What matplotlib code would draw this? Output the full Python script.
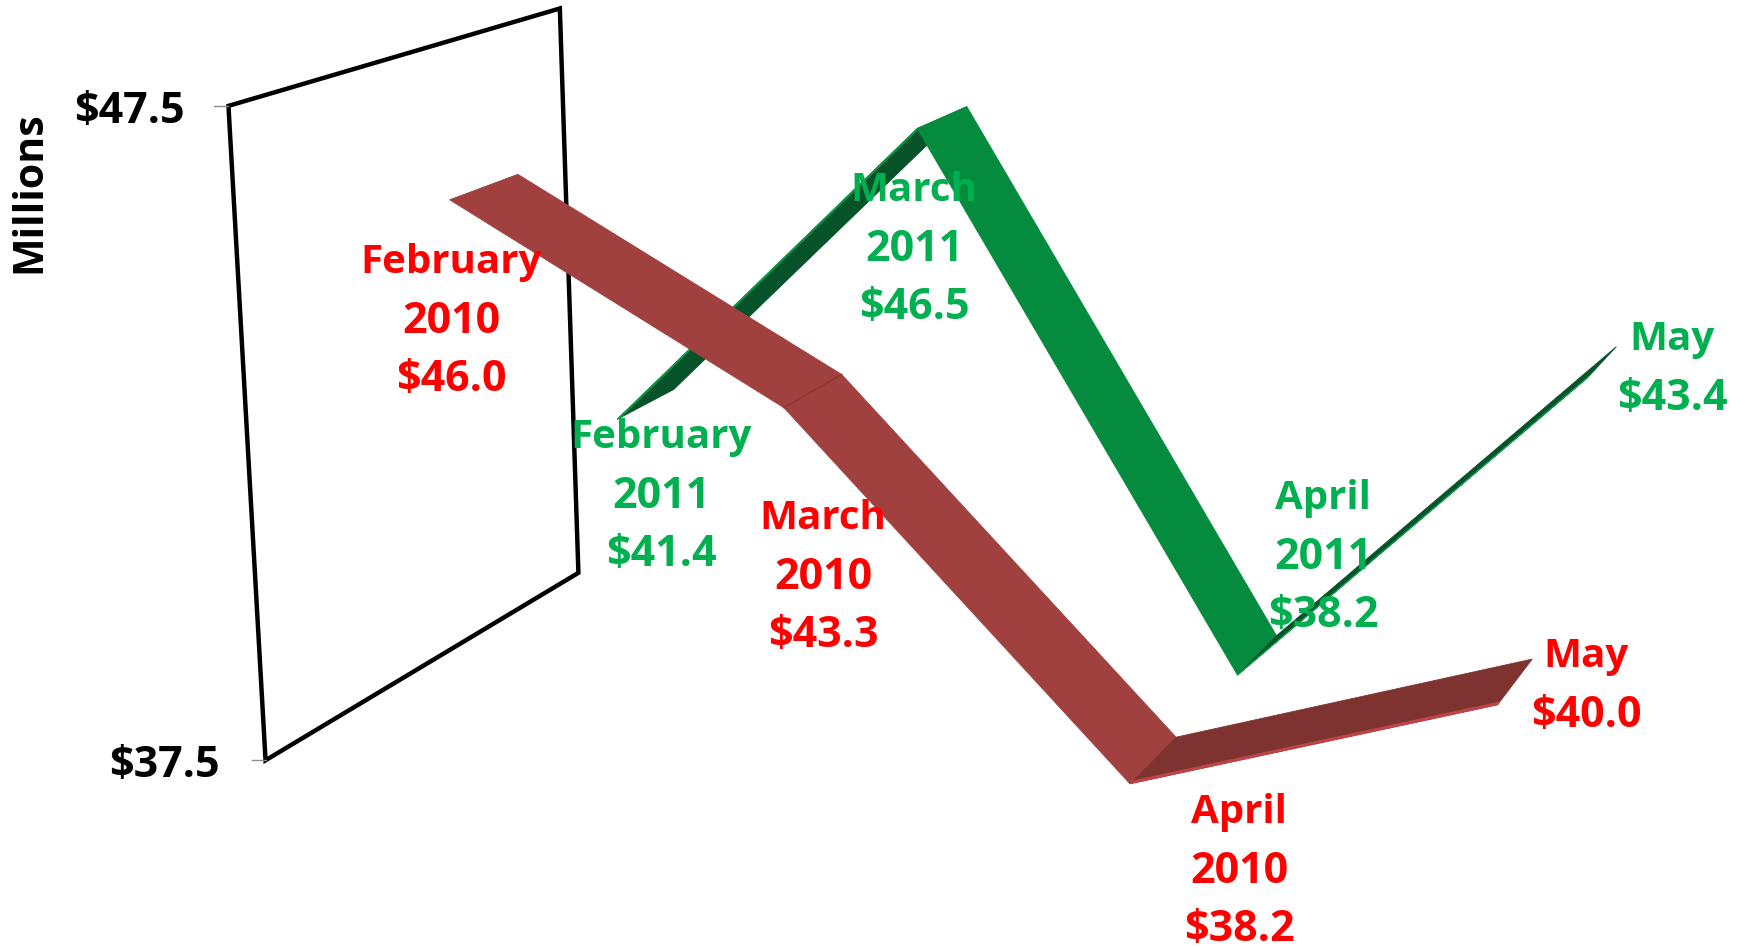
import matplotlib
matplotlib.use('Agg')
import matplotlib.pyplot as plt
import numpy as np

### Data

months = ['February', 'March', 'April', 'May']
years_2010 = ['2010', '2010', '2010', '']
years_2011 = ['2011', '2011', '2011', '']
values_2010 = [46.0, 43.3, 38.2, 40.0]
values_2011 = [41.4, 46.5, 38.2, 43.4]
axis_values = [37.5, 47.5]

### Camera for the 3D look: (category, depth, value) -> picture pixels

camera = np.array([
    [250.7556, 70.87276, -4.027204, 553.6854],
    [13.72727, -15.82113, -55.65071, 2723.6268],
    [-0.02614323, 0.02897421, -0.003927233, 1.0],
])


def project(cat, depth, value):
    q = camera @ np.array([cat, depth, value, 1.0])
    return q[0] / q[2], q[1] / q[2]


# depth of each ribbon, and the box wall
depth_2010 = 0.0
depth_2011 = 2.45
ribbon_width = 1.0
wall_cat = -0.5
wall_depth = [-0.75, 4.13]

### Set up figure

plt.rcParams['font.family'] = ['Open Sans', 'DejaVu Sans']
word_size = 29
number_size = 31
fig = plt.figure(figsize=(17.46, 9.48), dpi=100)
ax = fig.add_axes([0, 0, 1, 1])
ax.set_xlim(0, 1746)
ax.set_ylim(948, 0)
ax.axis('off')

### Wall

wall = [project(wall_cat, wall_depth[0], axis_values[1]),
        project(wall_cat, wall_depth[1], axis_values[1]),
        project(wall_cat, wall_depth[1], axis_values[0]),
        project(wall_cat, wall_depth[0], axis_values[0])]
ax.add_patch(plt.Polygon(wall, closed=True, fill=False, edgecolor='black', linewidth=3.2, zorder=1))

for v, lab_x in zip(axis_values, [220, 185]):
    x0, y0 = project(wall_cat, wall_depth[0], v)
    ax.plot([x0 - 14, x0], [y0, y0], color='0.55', linewidth=1.0, zorder=1)
    ax.text(lab_x, y0 + 17, '$%.1f' % v, color='black', fontsize=number_size, weight='bold',
            ha='right', va='baseline')

ax.text(30, 192, 'Millions', color='black', fontsize=29.5, weight='bold', rotation=90,
        ha='center', va='center')


### Ribbons

def draw_ribbon(values, depth, light, dark, edge, z):
    for i in range(len(values) - 1):
        falling = values[i + 1] < values[i]
        quad = [project(i, depth, values[i]),
                project(i, depth + ribbon_width, values[i]),
                project(i + 1, depth + ribbon_width, values[i + 1]),
                project(i + 1, depth, values[i + 1])]
        color = light if falling else dark
        ax.add_patch(plt.Polygon(quad, closed=True, facecolor=color, edgecolor=color,
                                 linewidth=0.6, zorder=z + i * 0.1))
        if not falling:
            # thin lit front edge on the rising parts
            strip = [project(i, depth, values[i]),
                     project(i, depth + 0.06, values[i]),
                     project(i + 1, depth + 0.06, values[i + 1]),
                     project(i + 1, depth, values[i + 1])]
            ax.add_patch(plt.Polygon(strip, closed=True, facecolor=edge, edgecolor=edge,
                                     linewidth=0.6, zorder=z + i * 0.1 + 0.01))


draw_ribbon(values_2011, depth_2011, '#058b3e', '#06532a', '#0b9a48', 2)
draw_ribbon(values_2010, depth_2010, '#a04140', '#7f3331', '#bf4548', 3)

# crease where the 2010 ribbon bends at March
crease = [project(1, depth_2010, values_2010[1]),
          project(1, depth_2010 + ribbon_width, values_2010[1])]
ax.plot([crease[0][0], crease[1][0]], [crease[0][1], crease[1][1]], color='#8a3736', linewidth=1.0, zorder=3.5)

### Labels

label_x_2010 = [451, 823, 1239, 1586]
label_y_2010 = [317, 573, 867, 682]
label_x_2011 = [661, 914, 1323, 1672]
label_y_2011 = [492, 245, 553, 365]


def draw_labels(values, years, xs, ys, color):
    for month, year, v, x, y in zip(months, years, values, xs, ys):
        lines = [(month, word_size, 14), (year, number_size, 16), ('$%.1f' % v, number_size, 16)]
        if not year:
            lines.pop(1)
        top = y - (len(lines) - 1) * 29
        for n, (line, size, drop) in enumerate(lines):
            ax.text(x, top + n * 58 + drop, line, color=color, fontsize=size, weight='bold',
                    ha='center', va='baseline', zorder=6)


draw_labels(values_2010, years_2010, label_x_2010, label_y_2010, '#ff0000')
draw_labels(values_2011, years_2011, label_x_2011, label_y_2011, '#00b050')

fig.savefig('out.png', dpi=100)
plt.close(fig)
